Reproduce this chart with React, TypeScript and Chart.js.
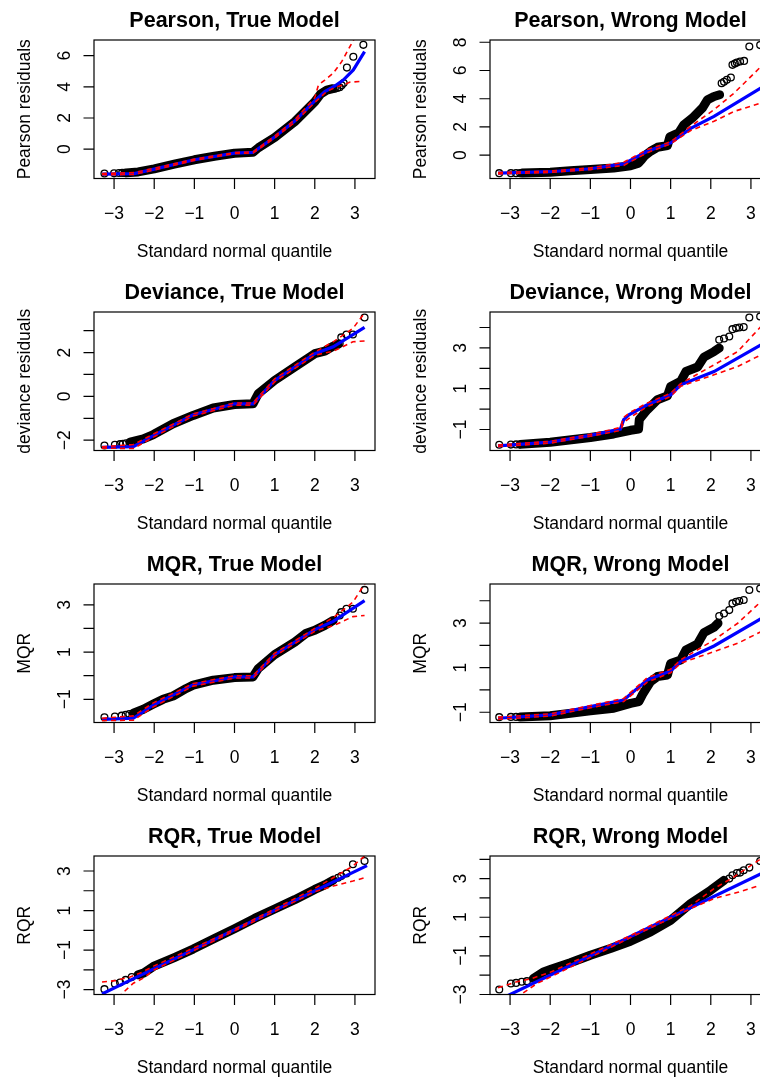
import React, { useEffect, useRef } from 'react';
import { Chart, registerables } from 'chart.js';

Chart.register(...registerables);

type Pt = [number, number];

// ---------- shared axis data ----------
const xTicks = [-3, -2, -1, 0, 1, 2, 3];
const xTickLabels = ['\u22123', '\u22122', '\u22121', '0', '1', '2', '3'];
const xTitle = 'Standard normal quantile';

// ---------- Pearson, True Model ----------
const pearsonTrueBand: Pt[] = [[-2.7, -1.52], [-2.4, -1.46], [-2.0, -1.26], [-1.5, -0.96], [-1.0, -0.68], [-0.5, -0.45], [0, -0.26], [0.46, -0.2], [0.6, 0.1], [1.0, 0.75], [1.5, 1.76], [2.0, 3.04], [2.15, 3.55], [2.3, 3.78], [2.45, 3.88]];
const pearsonTruePoints: Pt[] = [[-3.24, -1.56], [-3.0, -1.55], [-2.88, -1.53], [-2.8, -1.52], [-2.74, -1.52], [2.5, 3.87], [2.56, 3.92], [2.62, 3.97], [2.67, 4.1], [2.72, 4.24], [2.8, 5.23], [2.96, 5.93], [3.21, 6.69]];
const pearsonTrueBlue: Pt[] = [[-3.3, -1.6], [-2.5, -1.57], [-2.0, -1.28], [-1.0, -0.68], [0, -0.25], [0.46, -0.21], [1.0, 0.78], [1.5, 1.8], [2.0, 3.1], [2.25, 3.7], [2.5, 4.05], [2.71, 4.43], [2.96, 5.08], [3.24, 6.25]];
const pearsonTrueUpper: Pt[] = [[-3.3, -1.56], [-2.5, -1.5], [-2.0, -1.22], [-1.0, -0.64], [0, -0.22], [0.46, -0.17], [1.0, 0.84], [1.5, 1.88], [2.0, 3.3], [2.09, 4.11], [2.25, 4.43], [2.46, 4.87], [2.67, 5.61], [2.92, 6.79], [3.1, 7.6]];
const pearsonTrueLower: Pt[] = [[-3.3, -1.64], [-2.5, -1.62], [-2.0, -1.33], [-1.0, -0.72], [0, -0.28], [0.46, -0.25], [1.0, 0.72], [1.5, 1.72], [2.0, 3.0], [2.3, 3.7], [2.5, 3.95], [2.7, 4.11], [2.88, 4.3], [3.2, 4.35]];
const pearsonTrueYTicks = [0, 2, 4, 6];
const pearsonTrueYLabels = [0, 2, 4, 6];

// ---------- Pearson, Wrong Model ----------
const pearsonWrongBand: Pt[] = [[-2.7, -1.26], [-2.0, -1.2], [-1.5, -1.1], [-1.0, -1.01], [-0.42, -0.9], [0, -0.75], [0.2, -0.56], [0.28, -0.3], [0.35, -0.05], [0.5, 0.28], [0.67, 0.56], [0.92, 0.68], [0.98, 1.3], [1.2, 1.58], [1.33, 2.16], [1.54, 2.63], [1.79, 3.34], [1.92, 3.93], [2.08, 4.16], [2.22, 4.28]];
const pearsonWrongPoints: Pt[] = [[-3.27, -1.27], [-2.98, -1.27], [-2.85, -1.27], [-2.75, -1.27], [2.27, 5.1], [2.33, 5.2], [2.4, 5.34], [2.5, 5.5], [2.54, 6.4], [2.6, 6.5], [2.65, 6.56], [2.73, 6.64], [2.83, 6.68], [2.96, 7.7], [3.23, 7.8]];
const pearsonWrongBlue: Pt[] = [[-3.3, -1.27], [-2, -1.17], [-1, -0.96], [-0.17, -0.62], [0.42, 0.28], [1.0, 0.87], [1.5, 1.9], [2.08, 2.75], [3.5, 5.2]];
const pearsonWrongUpper: Pt[] = [[-3.3, -1.22], [-2, -1.12], [-1, -0.9], [-0.17, -0.5], [0.42, 0.4], [1.0, 0.95], [1.5, 2.05], [2.08, 3.22], [2.58, 4.4], [3.17, 6.05], [3.5, 7.0]];
const pearsonWrongLower: Pt[] = [[-3.3, -1.32], [-2, -1.22], [-1, -1.02], [-0.17, -0.72], [0.42, 0.18], [1.0, 0.8], [1.5, 1.75], [2.08, 2.4], [2.58, 3.1], [3.25, 3.7], [3.5, 3.8]];
const pearsonWrongYTicks = [0, 2, 4, 6, 8];
const pearsonWrongYLabels = [0, 2, 4, 6, 8];

// ---------- Deviance, True Model ----------
const devianceTrueBand: Pt[] = [[-2.6, -2.09], [-2.27, -1.94], [-2.02, -1.74], [-1.53, -1.25], [-1.03, -0.87], [-0.53, -0.53], [0, -0.37], [0.46, -0.34], [0.59, 0.12], [1.0, 0.73], [1.5, 1.34], [2.0, 1.95], [2.25, 2.06], [2.46, 2.29], [2.58, 2.38]];
const devianceTruePoints: Pt[] = [[-3.24, -2.24], [-2.98, -2.21], [-2.85, -2.18], [-2.78, -2.16], [-2.7, -2.14], [2.62, 2.41], [2.66, 2.69], [2.79, 2.82], [2.95, 2.82], [3.24, 3.6]];
const devianceTrueBlue: Pt[] = [[-3.3, -2.33], [-2.52, -2.29], [-2.02, -1.79], [-1.03, -0.84], [0, -0.34], [0.46, -0.34], [1.0, 0.73], [2.0, 1.95], [2.46, 2.26], [3.24, 3.15]];
const devianceTrueUpper: Pt[] = [[-3.3, -2.3], [-2.52, -2.2], [-2.02, -1.72], [-1.03, -0.8], [0, -0.3], [0.46, -0.3], [1.0, 0.8], [2.0, 2.02], [2.46, 2.49], [2.95, 3.1], [3.3, 3.95]];
const devianceTrueLower: Pt[] = [[-3.3, -2.36], [-2.52, -2.38], [-2.02, -1.86], [-1.03, -0.9], [0, -0.4], [0.46, -0.4], [1.0, 0.66], [2.0, 1.88], [2.46, 2.06], [2.95, 2.49], [3.24, 2.53]];
const devianceTrueYTicks = [-2, -1, 0, 1, 2, 3];
const devianceTrueYLabels = [-2, 0, 2];

// ---------- Deviance, Wrong Model ----------
const devianceWrongBand: Pt[] = [[-2.75, -1.73], [-2, -1.63], [-1, -1.39], [-0.42, -1.22], [0, -1.04], [0.2, -0.98], [0.22, -0.5], [0.42, -0.03], [0.67, 0.46], [0.92, 0.65], [1.0, 1.11], [1.25, 1.36], [1.38, 1.84], [1.67, 2.06], [1.83, 2.55], [2.08, 2.82], [2.21, 2.99]];
const devianceWrongPoints: Pt[] = [[-3.27, -1.75], [-2.98, -1.74], [-2.85, -1.73], [2.21, 3.4], [2.33, 3.46], [2.46, 3.56], [2.54, 3.92], [2.63, 3.97], [2.71, 4.0], [2.82, 4.02], [2.96, 4.49], [3.23, 4.54]];
const devianceWrongBlue: Pt[] = [[-3.3, -1.8], [-2, -1.62], [-1, -1.29], [-0.25, -0.98], [-0.17, -0.52], [-0.04, -0.28], [0.42, 0.21], [1.0, 0.7], [1.25, 1.19], [2.08, 1.84], [3.5, 3.43]];
const devianceWrongUpper: Pt[] = [[-3.3, -1.76], [-2, -1.58], [-1, -1.24], [-0.25, -0.9], [-0.17, -0.4], [0, -0.15], [0.42, 0.3], [1.0, 0.78], [1.25, 1.25], [2.08, 2.17], [2.67, 2.82], [3.25, 4.05], [3.5, 4.6]];
const devianceWrongLower: Pt[] = [[-3.3, -1.84], [-2, -1.67], [-1, -1.33], [-0.25, -1.05], [-0.17, -0.65], [0, -0.4], [0.42, 0.12], [1.0, 0.62], [1.25, 1.12], [2.08, 1.68], [2.67, 2.09], [3.25, 2.66], [3.5, 2.8]];
const devianceWrongYTicks = [-1, 0, 1, 2, 3, 4];
const devianceWrongYLabels = [-1, 1, 3];

// ---------- MQR, True Model ----------
const mqrTrueBand: Pt[] = [[-2.52, -1.59], [-2.27, -1.42], [-2.02, -1.2], [-1.78, -1.0], [-1.53, -0.86], [-1.2, -0.54], [-1.03, -0.4], [-0.53, -0.19], [0, -0.08], [0.46, -0.05], [0.59, 0.3], [1.0, 0.89], [1.5, 1.42], [1.79, 1.8], [2.0, 1.92], [2.25, 2.13], [2.46, 2.34]];
const mqrTruePoints: Pt[] = [[-3.24, -1.76], [-2.98, -1.73], [-2.81, -1.69], [-2.71, -1.65], [-2.62, -1.62], [2.62, 2.55], [2.66, 2.69], [2.79, 2.83], [2.95, 2.83], [3.24, 3.63]];
const mqrTrueBlue: Pt[] = [[-3.3, -1.85], [-2.52, -1.8], [-2.02, -1.24], [-1.03, -0.38], [0, -0.05], [0.46, -0.05], [1.0, 0.89], [2.0, 1.95], [2.46, 2.3], [3.24, 3.18]];
const mqrTrueUpper: Pt[] = [[-3.3, -1.8], [-2.52, -1.7], [-2.02, -1.15], [-1.03, -0.33], [0, 0], [0.46, 0], [1.0, 0.95], [2.0, 2.0], [2.48, 2.48], [2.95, 3.11], [3.25, 3.9]];
const mqrTrueLower: Pt[] = [[-3.3, -1.9], [-2.52, -1.88], [-2.02, -1.32], [-1.03, -0.44], [0, -0.1], [0.46, -0.1], [1.0, 0.83], [2.0, 1.88], [2.48, 2.13], [2.95, 2.5], [3.24, 2.55]];
const mqrTrueYTicks = [-1, 0, 1, 2, 3];
const mqrTrueYLabels = [-1, 1, 3];

// ---------- MQR, Wrong Model ----------
const mqrWrongBand: Pt[] = [[-2.75, -1.21], [-2, -1.16], [-1, -0.94], [-0.42, -0.82], [0, -0.6], [0.21, -0.52], [0.3, -0.2], [0.5, 0.37], [0.67, 0.6], [0.92, 0.67], [1.0, 1.19], [1.25, 1.34], [1.38, 1.79], [1.67, 2.06], [1.83, 2.57], [2.08, 2.81], [2.18, 2.99]];
const mqrWrongPoints: Pt[] = [[-3.27, -1.22], [-2.98, -1.21], [-2.85, -1.21], [2.21, 3.31], [2.33, 3.43], [2.46, 3.58], [2.54, 3.88], [2.63, 3.95], [2.71, 3.99], [2.82, 4.03], [2.96, 4.48], [3.23, 4.55]];
const mqrWrongBlue: Pt[] = [[-3.3, -1.27], [-2, -1.12], [-1, -0.75], [-0.17, -0.45], [0.42, 0.45], [1.0, 0.85], [1.25, 1.27], [2.08, 1.97], [3.5, 3.45]];
const mqrWrongUpper: Pt[] = [[-3.3, -1.22], [-2, -1.07], [-1, -0.7], [-0.17, -0.38], [0.42, 0.55], [1.0, 0.93], [1.25, 1.35], [2.08, 2.24], [2.67, 2.99], [3.25, 3.96], [3.5, 4.4]];
const mqrWrongLower: Pt[] = [[-3.3, -1.32], [-2, -1.17], [-1, -0.8], [-0.17, -0.52], [0.42, 0.35], [1.0, 0.77], [1.25, 1.2], [2.08, 1.72], [2.67, 2.09], [3.25, 2.61], [3.5, 2.75]];
const mqrWrongYTicks = [-1, 0, 1, 2, 3, 4];
const mqrWrongYLabels = [-1, 1, 3];

// ---------- RQR, True Model ----------
const rqrTrueBand: Pt[] = [[-2.4, -2.25], [-2.27, -2.17], [-2.02, -1.83], [-1.5, -1.38], [-1.03, -0.95], [-0.5, -0.42], [0, 0.08], [0.5, 0.6], [1.0, 1.08], [1.5, 1.55], [2.0, 2.07], [2.25, 2.3], [2.46, 2.54]];
const rqrTruePoints: Pt[] = [[-3.24, -2.98], [-2.98, -2.71], [-2.85, -2.64], [-2.71, -2.51], [-2.56, -2.37], [2.58, 2.66], [2.66, 2.75], [2.79, 2.88], [2.95, 3.34], [3.24, 3.51]];
const rqrTrueBlue: Pt[] = [[-3.3, -3.22], [3.3, 3.27]];
const rqrTrueUpper: Pt[] = [[-3.3, -2.62], [-2.98, -2.55], [-2.6, -2.36], [-2.3, -2.12], [-2, -1.8], [0, 0.05], [2.0, 2.12], [2.46, 2.66], [2.95, 3.25], [3.24, 3.76]];
const rqrTrueLower: Pt[] = [[-2.9, -3.4], [-2.81, -3.22], [-2.52, -2.68], [-2.27, -2.42], [-2, -2.0], [0, -0.03], [2.0, 1.95], [2.46, 2.24], [2.95, 2.49], [3.24, 2.66]];
const rqrTrueYTicks = [-3, -2, -1, 0, 1, 2, 3];
const rqrTrueYLabels = [-3, -1, 1, 3];

// ---------- RQR, Wrong Model ----------
const rqrWrongBand: Pt[] = [[-2.42, -2.17], [-2.17, -1.83], [-2, -1.71], [-1.5, -1.36], [-1, -0.97], [-0.5, -0.62], [0, -0.24], [0.5, 0.24], [1.0, 0.84], [1.5, 1.71], [2.0, 2.4], [2.33, 2.91]];
const rqrWrongPoints: Pt[] = [[-3.27, -2.74], [-2.98, -2.43], [-2.85, -2.4], [-2.71, -2.34], [-2.58, -2.31], [2.46, 3.0], [2.54, 3.17], [2.65, 3.29], [2.73, 3.31], [2.82, 3.43], [2.96, 3.57], [3.23, 3.91]];
const rqrWrongBlue: Pt[] = [[-3.5, -3.5], [3.5, 3.5]];
const rqrWrongUpper: Pt[] = [[-3.3, -2.65], [-2.83, -2.34], [-2.5, -2.2], [-2, -1.85], [0, 0.05], [1.5, 1.6], [2.08, 2.48], [2.58, 3.09], [3.25, 4.03], [3.5, 4.4]];
const rqrWrongLower: Pt[] = [[-2.85, -3.2], [-2.75, -3.03], [-2.33, -2.43], [-2, -2.1], [0, -0.05], [1.5, 1.45], [2.08, 1.97], [2.7, 2.31], [3.25, 2.66], [3.5, 2.8]];
const rqrWrongYTicks = [-3, -2, -1, 0, 1, 2, 3, 4];
const rqrWrongYLabels = [-3, -1, 1, 3];

// ---------- panel specs ----------
interface PanelSpec {
  title: string;
  yTitle: string;
  col: number;
  row: number;
  yMin: number;
  yMax: number;
  yTicks: number[];
  yLabels: number[];
  band: Pt[];
  points: Pt[];
  blue: Pt[];
  upper: Pt[];
  lower: Pt[];
}

const panels: PanelSpec[] = [
  { title: 'Pearson, True Model', yTitle: 'Pearson residuals', col: 0, row: 0, yMin: -1.88, yMax: 7.0, yTicks: pearsonTrueYTicks, yLabels: pearsonTrueYLabels, band: pearsonTrueBand, points: pearsonTruePoints, blue: pearsonTrueBlue, upper: pearsonTrueUpper, lower: pearsonTrueLower },
  { title: 'Pearson, Wrong Model', yTitle: 'Pearson residuals', col: 1, row: 0, yMin: -1.65, yMax: 8.16, yTicks: pearsonWrongYTicks, yLabels: pearsonWrongYLabels, band: pearsonWrongBand, points: pearsonWrongPoints, blue: pearsonWrongBlue, upper: pearsonWrongUpper, lower: pearsonWrongLower },
  { title: 'Deviance, True Model', yTitle: 'deviance residuals', col: 0, row: 1, yMin: -2.47, yMax: 3.85, yTicks: devianceTrueYTicks, yLabels: devianceTrueYLabels, band: devianceTrueBand, points: devianceTruePoints, blue: devianceTrueBlue, upper: devianceTrueUpper, lower: devianceTrueLower },
  { title: 'Deviance, Wrong Model', yTitle: 'deviance residuals', col: 1, row: 1, yMin: -2.03, yMax: 4.76, yTicks: devianceWrongYTicks, yLabels: devianceWrongYLabels, band: devianceWrongBand, points: devianceWrongPoints, blue: devianceWrongBlue, upper: devianceWrongUpper, lower: devianceWrongLower },
  { title: 'MQR, True Model', yTitle: 'MQR', col: 0, row: 2, yMin: -1.98, yMax: 3.88, yTicks: mqrTrueYTicks, yLabels: mqrTrueYLabels, band: mqrTrueBand, points: mqrTruePoints, blue: mqrTrueBlue, upper: mqrTrueUpper, lower: mqrTrueLower },
  { title: 'MQR, Wrong Model', yTitle: 'MQR', col: 1, row: 2, yMin: -1.46, yMax: 4.75, yTicks: mqrWrongYTicks, yLabels: mqrWrongYLabels, band: mqrWrongBand, points: mqrWrongPoints, blue: mqrWrongBlue, upper: mqrWrongUpper, lower: mqrWrongLower },
  { title: 'RQR, True Model', yTitle: 'RQR', col: 0, row: 3, yMin: -3.25, yMax: 3.76, yTicks: rqrTrueYTicks, yLabels: rqrTrueYLabels, band: rqrTrueBand, points: rqrTruePoints, blue: rqrTrueBlue, upper: rqrTrueUpper, lower: rqrTrueLower },
  { title: 'RQR, Wrong Model', yTitle: 'RQR', col: 1, row: 3, yMin: -3.0, yMax: 4.17, yTicks: rqrWrongYTicks, yLabels: rqrWrongYLabels, band: rqrWrongBand, points: rqrWrongPoints, blue: rqrWrongBlue, upper: rqrWrongUpper, lower: rqrWrongLower },
];

// ---------- layout ----------
const CANVAS_W = 396;
const CANVAS_H = 270;
const COL_STEP = 396;
const ROW_STEP = 272;
const BOX_LEFT = 94;
const BOX_RIGHT = 375;
const BOX_TOP = 40;
const BOX_H = 138.5;
const FONT = '"Liberation Sans", Arial, Helvetica, sans-serif';

const fmt = (v: number) => (v < 0 ? '\u2212' + Math.abs(v) : String(v));
const toXY = (arr: Pt[]) => arr.map(([x, y]) => ({ x, y }));

function makeAxesPlugin(spec: PanelSpec) {
  return {
    id: 'rAxes',
    afterDraw(chart: any) {
      const { ctx, chartArea: a, scales } = chart;
      const xs = scales.x;
      const ys = scales.y;
      const tick = 10.5;
      ctx.save();
      ctx.strokeStyle = '#000';
      ctx.lineWidth = 1.2;
      ctx.strokeRect(a.left, a.top, a.right - a.left, a.bottom - a.top);
      ctx.beginPath();
      for (const v of xTicks) {
        const px = xs.getPixelForValue(v);
        ctx.moveTo(px, a.bottom);
        ctx.lineTo(px, a.bottom + tick);
      }
      for (const v of spec.yTicks) {
        const py = ys.getPixelForValue(v);
        ctx.moveTo(a.left, py);
        ctx.lineTo(a.left - tick, py);
      }
      ctx.stroke();

      ctx.fillStyle = '#000';
      ctx.font = `17.5px ${FONT}`;
      ctx.textAlign = 'center';
      ctx.textBaseline = 'alphabetic';
      xTicks.forEach((v, i) => {
        ctx.fillText(xTickLabels[i], xs.getPixelForValue(v), a.bottom + 40);
      });
      for (const v of spec.yLabels) {
        const py = ys.getPixelForValue(v);
        ctx.save();
        ctx.translate(a.left - 24, py);
        ctx.rotate(-Math.PI / 2);
        ctx.fillText(fmt(v), 0, 0);
        ctx.restore();
      }
      ctx.fillText(xTitle, (a.left + a.right) / 2, a.bottom + 78.5);
      ctx.save();
      ctx.translate(a.left - 64.5, (a.top + a.bottom) / 2);
      ctx.rotate(-Math.PI / 2);
      ctx.fillText(spec.yTitle, 0, 0);
      ctx.restore();

      ctx.font = `bold 21.5px ${FONT}`;
      ctx.fillText(spec.title, (a.left + a.right) / 2, a.top - 13.5);
      ctx.restore();
    },
  };
}

function Panel({ spec }: { spec: PanelSpec }) {
  const ref = useRef<HTMLCanvasElement | null>(null);
  useEffect(() => {
    if (!ref.current) return;
    const dash = [5, 4];
    const chart = new Chart(ref.current, {
      type: 'line',
      data: {
        datasets: [
          { data: toXY(spec.upper), borderColor: '#FF0000', borderWidth: 1.6, borderDash: dash, pointRadius: 0, order: 0, clip: 0 } as any,
          { data: toXY(spec.lower), borderColor: '#FF0000', borderWidth: 1.6, borderDash: dash, pointRadius: 0, order: 0, clip: 0 } as any,
          { data: toXY(spec.blue), borderColor: '#0000FF', borderWidth: 3.2, pointRadius: 0, order: 1, clip: 0 } as any,
          { data: toXY(spec.points), showLine: false, pointRadius: 3.4, pointBorderWidth: 1.3, pointBorderColor: '#000', pointBackgroundColor: 'rgba(0,0,0,0)', order: 2, clip: 0 } as any,
          { data: toXY(spec.band), borderColor: '#000', borderWidth: 9, borderCapStyle: 'round', borderJoinStyle: 'round', pointRadius: 0, order: 3, clip: 0 } as any,
        ],
      },
      options: {
        responsive: false,
        animation: false,
        devicePixelRatio: 1,
        events: [],
        layout: {
          padding: {
            left: BOX_LEFT,
            top: BOX_TOP,
            right: CANVAS_W - BOX_RIGHT,
            bottom: CANVAS_H - BOX_TOP - BOX_H,
          },
        },
        elements: { line: { tension: 0 } },
        plugins: {
          legend: { display: false },
          title: { display: false },
          tooltip: { enabled: false },
        },
        scales: {
          x: { type: 'linear', min: -3.5, max: 3.5, display: false },
          y: { type: 'linear', min: spec.yMin, max: spec.yMax, display: false },
        },
      },
      plugins: [makeAxesPlugin(spec)],
    });
    return () => chart.destroy();
  }, [spec]);
  return (
    <canvas
      ref={ref}
      width={CANVAS_W}
      height={CANVAS_H}
      style={{ position: 'absolute', left: spec.col * COL_STEP, top: spec.row * ROW_STEP, width: CANVAS_W, height: CANVAS_H }}
    />
  );
}

export default function App() {
  return (
    <div style={{ position: 'absolute', left: 0, top: 0, width: 760, height: 1079, overflow: 'hidden', background: '#fff' }}>
      {panels.map((p) => (
        <Panel key={p.title} spec={p} />
      ))}
    </div>
  );
}
